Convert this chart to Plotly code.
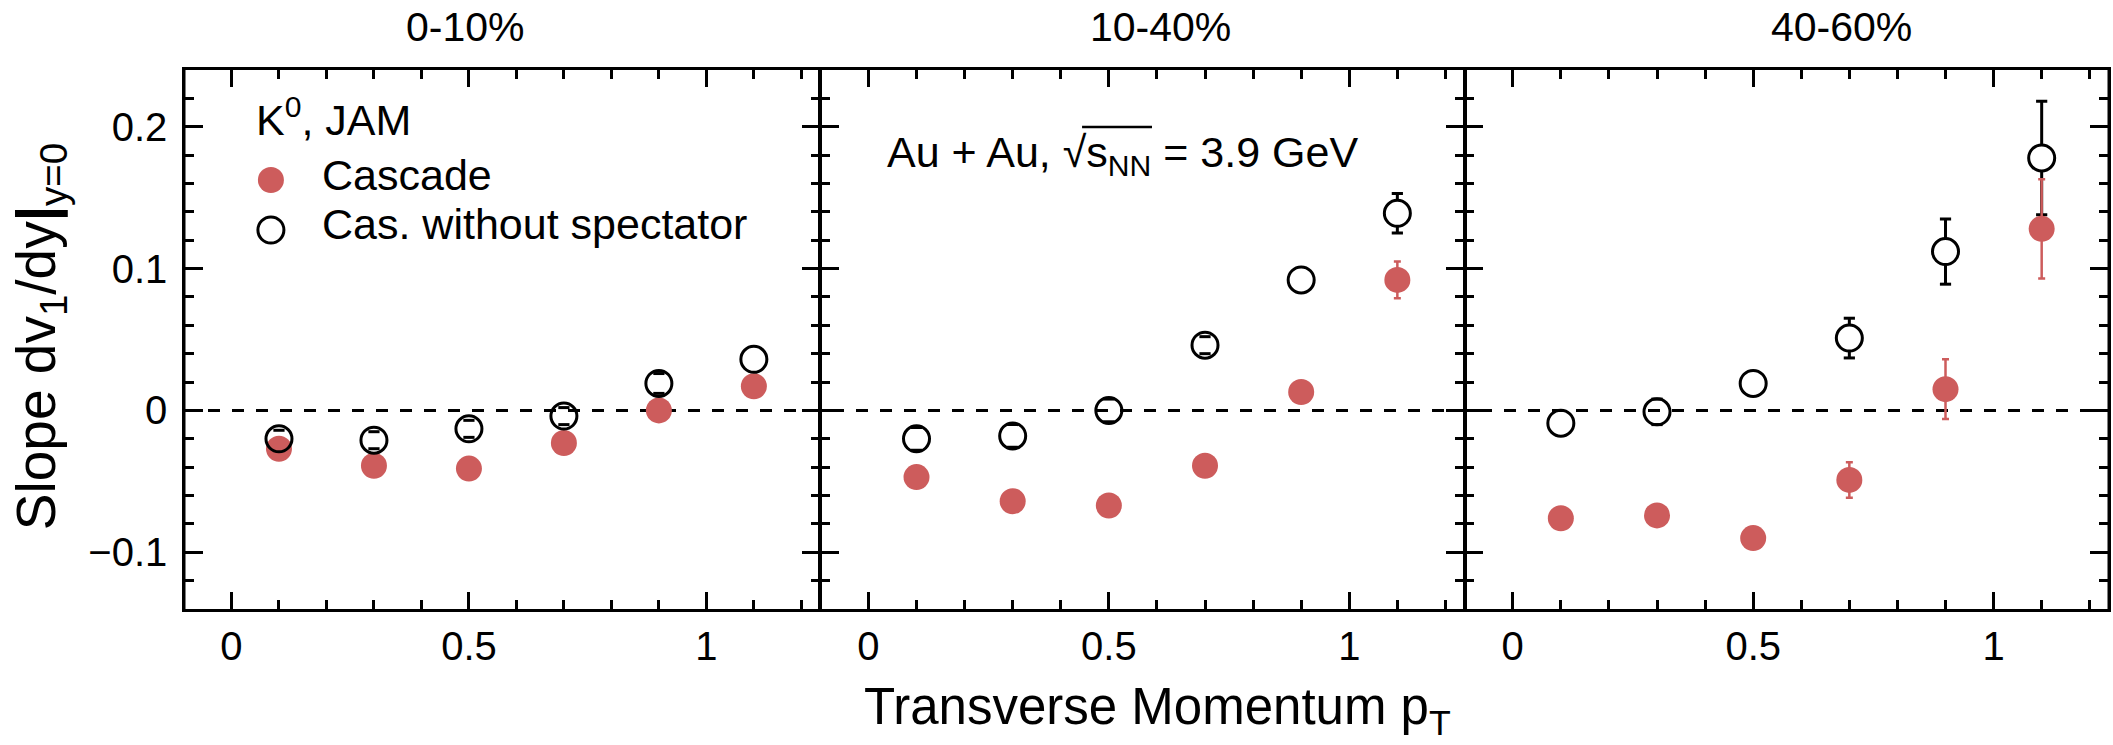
import plotly.graph_objects as go

# Transverse momentum bin centres
pt = [0.1, 0.3, 0.5, 0.7, 0.9, 1.1]

# Centrality classes
centralities = ["0-10%", "10-40%", "40-60%"]

# Slope dv1/dy at y=0 -- JAM cascade mode
cascade = {
    "0-10%": [-0.027, -0.039, -0.041, -0.023, 0.000, 0.017],
    "10-40%": [-0.047, -0.064, -0.067, -0.039, 0.013, 0.092],
    "40-60%": [-0.076, -0.074, -0.090, -0.049, 0.015, 0.128],
}
cascade_err = {
    "0-10%": [0.003, 0.003, 0.003, 0.003, 0.003, 0.003],
    "10-40%": [0.003, 0.003, 0.003, 0.004, 0.005, 0.013],
    "40-60%": [0.004, 0.004, 0.005, 0.0125, 0.021, 0.035],
}

# Slope dv1/dy at y=0 -- cascade mode without spectators
no_spectator = {
    "0-10%": [-0.020, -0.021, -0.013, -0.004, 0.019, 0.036],
    "10-40%": [-0.020, -0.018, 0.000, 0.046, 0.092, 0.139],
    "40-60%": [-0.009, -0.001, 0.019, 0.051, 0.112, 0.178],
}
no_spectator_err = {
    "0-10%": [0.006, 0.006, 0.006, 0.006, 0.007, 0.0],
    "10-40%": [0.008, 0.008, 0.008, 0.006, 0.0, 0.014],
    "40-60%": [0.0, 0.009, 0.0, 0.014, 0.023, 0.040],
}

RED = "#cd5c5c"
FONT = "Liberation Sans"
W, H = 2113, 745
ML, MR, MT, MB = 184, 2, 70, 136
PW, PH = W - ML - MR, H - MT - MB
Y_RANGE = [-0.14, 0.24]
MARKER = 26


def px(xp):
    return (xp - ML) / PW


def py(yp):
    return (H - MB - yp) / PH


# marker radius expressed in y-axis units
radius_data = (MARKER / 2) * (Y_RANGE[1] - Y_RANGE[0]) / PH


def bar_segments(xs, ys, es):
    # vertical error lines run from the circle outline to the bar end
    sx, sy = [], []
    for x, y, e in zip(xs, ys, es):
        if e > radius_data:
            sx += [x, x, None, x, x, None]
            sy += [y + radius_data, y + e, None, y - radius_data, y - e, None]
    return sx, sy


def bar_caps(xs, ys, es):
    cx, cy = [], []
    for x, y, e in zip(xs, ys, es):
        if e > 0:
            cx += [x, x]
            cy += [y + e, y - e]
    return cx, cy


# panel boundaries in pixels
edges = [184, 821, 1466, 2111]
domains = [[px(edges[i]), px(edges[i + 1])] for i in range(3)]
domains[-1][1] = 1.0

fig = go.Figure()

for i, c in enumerate(centralities):
    xa = "x" if i == 0 else f"x{i + 1}"
    ya = "y" if i == 0 else f"y{i + 1}"
    # error bars of the open points
    seg_x, seg_y = bar_segments(pt, no_spectator[c], no_spectator_err[c])
    fig.add_trace(go.Scatter(
        x=seg_x, y=seg_y, xaxis=xa, yaxis=ya, mode="lines",
        line=dict(color="black", width=3), showlegend=False, hoverinfo="skip"))
    cap_x, cap_y = bar_caps(pt, no_spectator[c], no_spectator_err[c])
    fig.add_trace(go.Scatter(
        x=cap_x, y=cap_y, xaxis=xa, yaxis=ya, mode="markers",
        marker=dict(symbol="line-ew", size=8,
                    line=dict(color="black", width=3)),
        showlegend=False, hoverinfo="skip"))
    fig.add_trace(go.Scatter(
        x=pt, y=cascade[c], xaxis=xa, yaxis=ya, mode="markers",
        marker=dict(symbol="circle", size=MARKER, color=RED),
        error_y=dict(type="data", array=cascade_err[c], color=RED,
                     thickness=2.5, width=3.5),
        name="Cascade", showlegend=False))
    fig.add_trace(go.Scatter(
        x=pt, y=no_spectator[c], xaxis=xa, yaxis=ya, mode="markers",
        marker=dict(symbol="circle-open", size=MARKER, color="black",
                    line=dict(width=3, color="black")),
        name="Cas. without spectator", showlegend=False))

# legend keys on an overlay axis spanning the plotting area
legend_x = [px(271), px(271)]
legend_y = [py(180), py(230)]
fig.add_trace(go.Scatter(
    x=legend_x[:1], y=legend_y[:1], xaxis="x4", yaxis="y4", mode="markers",
    marker=dict(symbol="circle", size=MARKER, color=RED), showlegend=False,
    hoverinfo="skip"))
fig.add_trace(go.Scatter(
    x=legend_x[1:], y=legend_y[1:], xaxis="x4", yaxis="y4", mode="markers",
    marker=dict(symbol="circle-open", size=MARKER, color="black",
                line=dict(width=3, color="black")), showlegend=False,
    hoverinfo="skip"))

tickfont = dict(family=FONT, size=40, color="black")

for i in range(3):
    sx = "" if i == 0 else str(i + 1)
    fig.layout[f"xaxis{sx}"] = dict(
        domain=domains[i], anchor=f"y{sx}",
        range=[-0.1, 1.24], tickmode="linear", tick0=0, dtick=0.5,
        showline=True, linewidth=3, linecolor="black", mirror="allticks",
        ticks="inside", ticklen=17, tickwidth=3, tickcolor="black",
        showgrid=False, zeroline=False, tickfont=tickfont,
        minor=dict(dtick=0.1, ticklen=9, tickwidth=3, ticks="inside",
                   tickcolor="black", showgrid=False),
    )
    # neighbouring panels share an edge, so each side draws half the width
    fig.layout[f"yaxis{sx}"] = dict(
        domain=[0, 1], anchor=f"x{sx}",
        range=Y_RANGE, tickmode="linear", tick0=0, dtick=0.1,
        showline=True, linewidth=1.5, linecolor="black", mirror="allticks",
        ticks="inside", ticklen=19, tickwidth=3, tickcolor="black",
        showgrid=False, zeroline=False, tickfont=tickfont,
        showticklabels=(i == 0), ticklabelstandoff=7,
        minor=dict(dtick=0.02, ticklen=10, tickwidth=3, ticks="inside",
                   tickcolor="black", showgrid=False),
    )

fig.layout["xaxis4"] = dict(domain=[0, 1], anchor="y4", range=[0, 1],
                            visible=False, fixedrange=True)
fig.layout["yaxis4"] = dict(domain=[0, 1], anchor="x4", range=[0, 1],
                            visible=False, fixedrange=True)

fig.update_layout(
    width=W, height=H,
    margin=dict(l=ML, r=MR, t=MT, b=MB, pad=0),
    plot_bgcolor="rgba(0,0,0,0)", paper_bgcolor="white",
    font=dict(family=FONT, color="black"),
    showlegend=False,
)

# y = 0 reference line across all panels
fig.add_shape(type="line", xref="paper", yref="y", x0=0, x1=1, y0=0, y1=0,
              line=dict(color="black", width=3, dash="12px,12px"), layer="below")

# outer left and right frame edges at full width
for xe in (0, 1):
    fig.add_shape(type="line", xref="paper", yref="paper", x0=xe, x1=xe,
                  y0=-0.003, y1=1.003, line=dict(color="black", width=3))

ann = []
# centrality labels
for c, xc in zip(centralities, [466, 1162, 1843]):
    ann.append(dict(text=c, x=px(xc), y=py(27), xref="paper", yref="paper",
                    showarrow=False, xanchor="center", yanchor="middle",
                    font=dict(family=FONT, size=41, color="black")))

ann.append(dict(text="K<sup>0</sup>, JAM", x=px(254), y=py(117), xref="paper",
                yref="paper", showarrow=False, xanchor="left", yanchor="middle",
                font=dict(family=FONT, size=43, color="black")))
ann.append(dict(text="Cascade", x=px(320), y=py(175), xref="paper",
                yref="paper", showarrow=False, xanchor="left", yanchor="middle",
                font=dict(family=FONT, size=43, color="black")))
ann.append(dict(text="Cas. without spectator", x=px(320), y=py(224),
                xref="paper", yref="paper", showarrow=False, xanchor="left",
                yanchor="middle", font=dict(family=FONT, size=43, color="black")))

ann.append(dict(text="Au + Au, \u221as<sub>NN</sub> = 3.9 GeV", x=px(886), y=py(155),
                xref="paper", yref="paper", showarrow=False, xanchor="left",
                yanchor="middle", font=dict(family=FONT, size=43, color="black")))

ann.append(dict(text="Transverse Momentum p<sub>T</sub>", x=px(863), y=py(710),
                xref="paper", yref="paper", showarrow=False, xanchor="left",
                yanchor="middle", font=dict(family=FONT, size=51, color="black")))

ann.append(dict(text="Slope dv<sub>1</sub>/dy<b>|</b><sub>y=0</sub>", x=px(40),
                y=py(337), xref="paper", yref="paper", showarrow=False,
                xanchor="center", yanchor="middle", textangle=-90,
                font=dict(family=FONT, size=55, color="black")))

fig.update_layout(annotations=ann)

# overbar of the square root
fig.add_shape(type="line", xref="paper", yref="paper",
              x0=px(1083), x1=px(1153), y0=py(127), y1=py(127),
              line=dict(color="black", width=2.5))

fig.write_html("out.html")
